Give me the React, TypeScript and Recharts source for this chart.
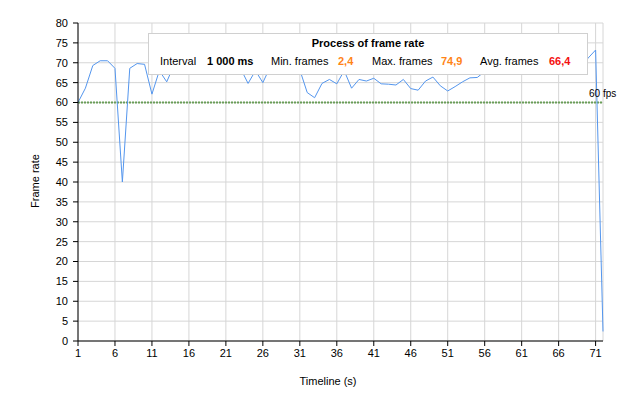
import React from "react";
import { LineChart, Line, XAxis, YAxis, CartesianGrid, ReferenceLine } from "recharts";

const timeline = [
  1, 2, 3, 4, 5, 6, 7, 8, 9, 10, 11, 12, 13, 14, 15, 16, 17, 18, 19, 20, 21, 22, 23, 24,
  25, 26, 27, 28, 29, 30, 31, 32, 33, 34, 35, 36, 37, 38, 39, 40, 41, 42, 43, 44, 45, 46, 47, 48,
  49, 50, 51, 52, 53, 54, 55, 56, 57, 58, 59, 60, 61, 62, 63, 64, 65, 66, 67, 68, 69, 70, 71, 72,
];

const frameRate = [
  60, 63.6, 69.3, 70.5, 70.5, 68.6, 40, 68.6, 69.8, 69.6, 62.1, 68, 65.2, 69.5, 71.2, 70.4, 72.1, 69.8,
  70.9, 71.6, 69.2, 70.3, 68.5, 64.8, 68, 65.0, 69.0, 71.3, 70.5, 72.4, 68.2, 62.5, 61.2, 64.8,
  65.8, 64.7, 68, 63.6, 65.8, 65.4, 66.1, 64.7, 64.6, 64.4, 65.8, 63.5, 63.1, 65.4, 66.4, 64.2,
  62.9, 64, 65.2, 66.2, 66.3, 67.8, 69.4, 68.9, 70.6, 71.3, 69.7, 70.2, 74.9, 71.0, 69.5, 70.8,
  69.9, 68.1, 68.8, 71.2, 73.2, 2.4,
];

const xTicks = [1, 6, 11, 16, 21, 26, 31, 36, 41, 46, 51, 56, 61, 66, 71];
const yTicks = [0, 5, 10, 15, 20, 25, 30, 35, 40, 45, 50, 55, 60, 65, 70, 75, 80];
const targetFps = 60;

const title = "Process of frame rate";
const stats = [
  { label: "Interval", value: "1 000 ms", color: "#000000", labelX: 160, valueX: 207 },
  { label: "Min. frames", value: "2,4", color: "#ff8417", labelX: 271, valueX: 338 },
  { label: "Max. frames", value: "74,9", color: "#ff8417", labelX: 372, valueX: 441 },
  { label: "Avg. frames", value: "66,4", color: "#f41010", labelX: 480, valueX: 549 },
];

const data = timeline.map((t, i) => ({ t, fps: frameRate[i] }));

const FONT = "'Liberation Sans', Arial, sans-serif";

export default function App() {
  return (
    <div style={{ position: "absolute", left: 0, top: 0, width: 628, height: 404, background: "#fff", fontFamily: FONT }}>
      <LineChart
        width={628}
        height={404}
        data={data}
        margin={{ top: 23, right: 25, bottom: 0, left: 0 }}
        style={{ fontFamily: FONT }}
      >
        <CartesianGrid stroke="#d6d6d6" strokeWidth={1} />
        <XAxis
          dataKey="t"
          type="number"
          domain={[1, 72]}
          ticks={xTicks}
          interval={0}
          height={63}
          tickSize={5}
          tickMargin={3}
          stroke="#000"
          tick={{ fill: "#000", fontSize: 11 }}
        />
        <YAxis
          domain={[0, 80]}
          ticks={yTicks}
          interval={0}
          width={78}
          tickSize={5}
          tickMargin={5}
          stroke="#000"
          tick={{ fill: "#000", fontSize: 11 }}
        />
        <ReferenceLine y={targetFps} stroke="#6a9e58" strokeWidth={2} strokeDasharray="2 1" />
        <Line
          type="linear"
          dataKey="fps"
          stroke="#5496ee"
          strokeWidth={1}
          dot={false}
          isAnimationActive={false}
        />
      </LineChart>

      <div style={{ position: "absolute", left: 589, top: 88, fontSize: 10, lineHeight: "12px", color: "#000", whiteSpace: "nowrap" }}>
        60 fps
      </div>

      <div
        style={{
          position: "absolute",
          left: 148,
          top: 33,
          width: 440,
          height: 42,
          boxSizing: "border-box",
          border: "1px solid #d0d0d0",
          background: "#fff",
        }}
      />
      <div style={{ position: "absolute", left: 148, width: 440, top: 37, textAlign: "center", fontSize: 11, lineHeight: "13px", fontWeight: "bold", color: "#000" }}>
        {title}
      </div>
      {stats.map((s) => (
        <React.Fragment key={s.label}>
          <div style={{ position: "absolute", left: s.labelX, top: 55, fontSize: 11, lineHeight: "13px", color: "#000", whiteSpace: "nowrap" }}>
            {s.label}
          </div>
          <div style={{ position: "absolute", left: s.valueX, top: 55, fontSize: 11, lineHeight: "13px", fontWeight: "bold", color: s.color, whiteSpace: "nowrap" }}>
            {s.value}
          </div>
        </React.Fragment>
      ))}

      <div style={{ position: "absolute", left: 278, width: 100, top: 375, textAlign: "center", fontSize: 11, lineHeight: "13px", color: "#000" }}>
        Timeline (s)
      </div>
      <div
        style={{
          position: "absolute",
          left: 35,
          top: 181,
          fontSize: 11,
          lineHeight: "13px",
          color: "#000",
          whiteSpace: "nowrap",
          transform: "translate(-50%, -50%) rotate(-90deg)",
        }}
      >
        Frame rate
      </div>
    </div>
  );
}
